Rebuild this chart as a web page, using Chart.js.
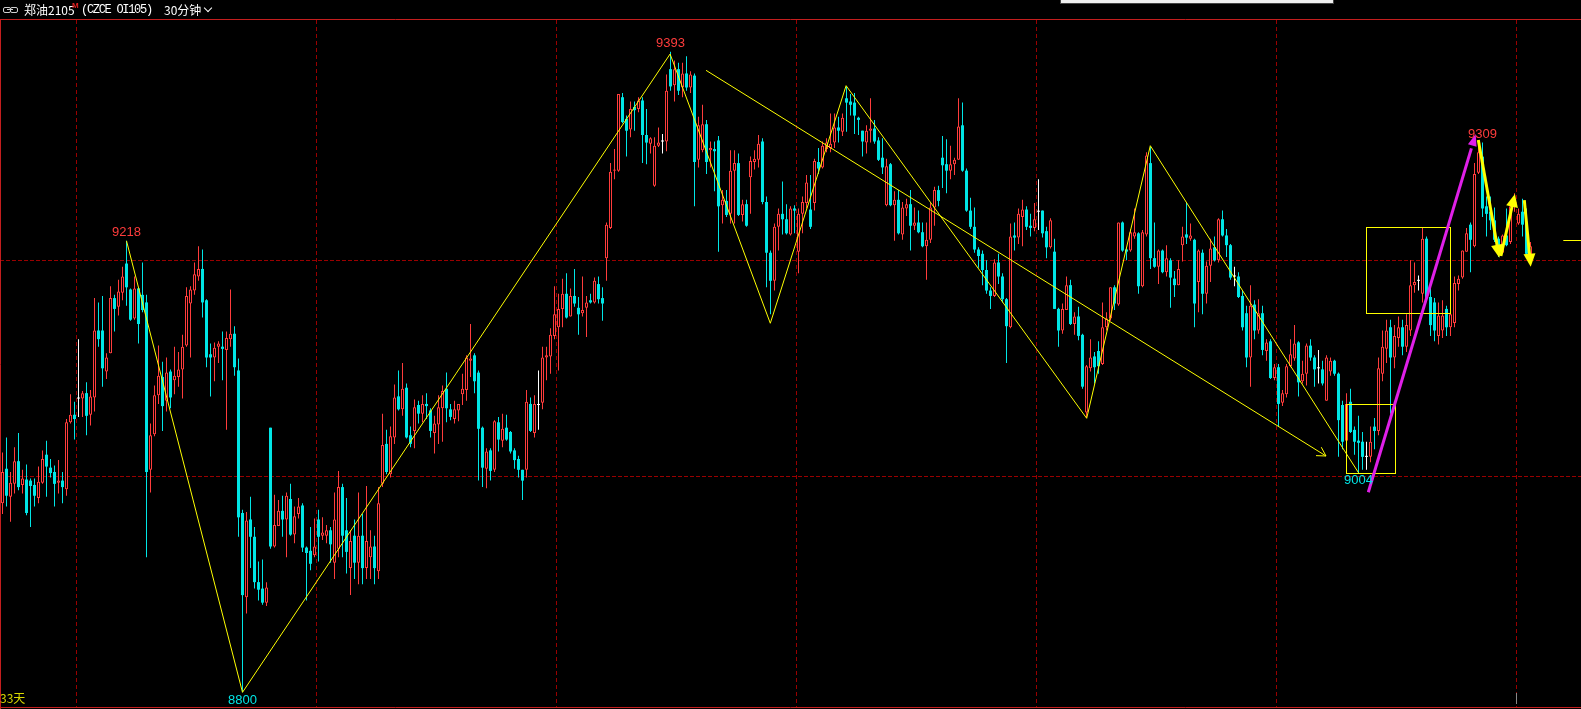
<!DOCTYPE html>
<html><head><meta charset="utf-8">
<script src="https://cdn.jsdelivr.net/npm/chart.js@4/dist/chart.umd.min.js"></script>
<style>
html,body{margin:0;padding:0;background:#000;width:1581px;height:709px;overflow:hidden;}
#wrap{position:relative;width:1581px;height:709px;}
#c{position:absolute;left:0;top:0;}
.t{position:absolute;white-space:nowrap;font-size:12px;line-height:14px;color:#fff;}
</style></head>
<body><div id="wrap">
<canvas id="c" width="1581" height="709"></canvas>
<div class="t" style="left:3px;top:7px;width:6px;height:4px;border:1px solid #cfcfcf;border-radius:2px;"></div>
<div class="t" style="left:10px;top:7px;width:6px;height:4px;border:1px solid #cfcfcf;border-radius:2px;"></div>
<div class="t" style="left:7px;top:9px;width:6px;height:1px;background:#cfcfcf;"></div>
<div class="t" style="left:24px;top:3px;font-family:'Noto Sans CJK SC';">郑油2105</div>
<div class="t" style="left:72px;top:1px;font:bold 8px 'Liberation Sans';color:#e02020;">M</div>
<div class="t" style="left:81px;top:3px;font-family:'Liberation Mono';font-size:12px;letter-spacing:-1.3px;">(CZCE OI105)</div>
<div class="t" style="left:164px;top:3px;font-family:'Noto Sans CJK SC';">30分钟</div>
<div style="position:absolute;left:205px;top:5px;width:5px;height:5px;border-right:1.5px solid #fff;border-bottom:1.5px solid #fff;transform:rotate(45deg);"></div>
<div style="position:absolute;left:1060px;top:0;width:272px;height:3px;background:#f0f0f0;border:1px solid #444;border-top:none;"></div>
<div class="t" style="left:0px;top:691px;font-family:'Noto Sans CJK SC';color:#d8d800;">33天</div>
<div style="position:absolute;left:1516px;top:693px;width:1px;height:11px;background:#888;"></div>
</div>
<script>
// ---- data (one entry per 30-minute bar) ----
const O = [
8975,9007,8981,8993,9014,8992,8997,8996,8992,8980,
8994,9020,9008,9004,8994,8996,8988,9050,9057,9072,
9072,9077,9057,9073,9135,9135,9097,9114,9165,9157,
9170,9197,9173,9146,9174,9168,9161,9006,9039,9075,
9092,9070,9097,9089,9092,9099,9121,9160,9172,9185,
9192,9163,9113,9110,9120,9120,9117,9127,9132,9098,
8966,8888,8960,8944,8902,8896,8883,9045,8935,8954,
8968,8960,8979,8946,8965,8973,8934,8931,8927,8960,
8945,8945,8950,8920,8933,8990,8950,8915,8945,8920,
8945,8915,8925,8935,8912,8993,9030,9002,9036,9074,
9062,9082,9038,9042,9066,9058,9067,9061,9040,9048,
9063,9081,9062,9053,9061,9076,9080,9107,9112,9096,
9045,9007,9024,9006,9050,9033,9045,9041,9024,9016,
9006,9006,9067,9040,9066,9068,9110,9111,9130,9138,
9155,9169,9148,9167,9156,9151,9156,9163,9161,9178,
9165,9202,9230,9283,9283,9351,9331,9321,9342,9340,
9348,9316,9308,9269,9306,9310,9310,9377,9362,9377,
9360,9373,9360,9371,9293,9302,9326,9302,9303,9311,
9251,9255,9243,9283,9290,9242,9252,9277,9291,9293,
9310,9254,9207,9181,9231,9243,9238,9224,9248,9208,
9243,9253,9247,9253,9291,9286,9303,9304,9309,9323,
9319,9350,9347,9346,9332,9320,9309,9320,9322,9311,
9295,9251,9289,9251,9256,9224,9248,9252,9232,9235,
9226,9213,9219,9249,9265,9295,9289,9283,9289,9293,
9325,9283,9246,9231,9210,9206,9191,9172,9167,9198,
9185,9164,9138,9223,9221,9240,9247,9232,9230,9245,
9246,9227,9212,9208,9155,9135,9154,9177,9141,9148,
9131,9059,9100,9111,9116,9104,9138,9146,9175,9159,
9235,9210,9209,9222,9225,9176,9224,9290,9202,9194,
9209,9189,9200,9183,9177,9214,9224,9220,9219,9180,
9207,9169,9195,9212,9200,9238,9223,9214,9185,9185,
9167,9151,9110,9159,9135,9151,9116,9125,9091,9101,
9068,9076,9102,9109,9124,9088,9095,9121,9110,9100,
9099,9070,9097,9107,9095,9066,9033,9069,9043,9033,
9032,9018,9018,9046,9042,9095,9118,9138,9110,9128,
9138,9120,9135,9177,9181,9169,9220,9166,9161,9130,
9135,9155,9138,9142,9178,9184,9208,9233,9213,9281,
9296,9250,9245,9237,9220,9207,9223,9217,9252,9234,
9245,9234,9200];
const H = [
9022,9036,9004,9027,9040,9006,9011,8998,8998,9009,
9024,9033,9016,9010,9015,9004,9053,9076,9069,9127,
9079,9087,9080,9165,9161,9167,9114,9176,9168,9182,
9194,9218,9174,9185,9175,9198,9168,9049,9084,9121,
9106,9110,9099,9120,9115,9131,9175,9176,9198,9213,
9210,9164,9123,9124,9125,9134,9134,9173,9139,9109,
8969,8967,8981,8953,8921,8923,8902,9045,8983,8978,
8982,8985,8993,8972,8980,8975,8935,8953,8961,8969,
8962,8955,8953,8985,9005,8993,8980,8950,8960,8985,
8965,8991,8950,8945,8990,9058,9043,9046,9085,9098,
9105,9086,9046,9071,9070,9075,9077,9063,9056,9075,
9084,9096,9067,9070,9067,9095,9112,9141,9114,9098,
9046,9026,9026,9052,9055,9058,9057,9042,9026,9019,
9006,9080,9073,9075,9098,9120,9120,9137,9176,9169,
9183,9188,9174,9192,9166,9185,9167,9169,9184,9185,
9175,9235,9290,9303,9354,9355,9334,9347,9347,9351,
9351,9340,9314,9314,9323,9317,9372,9393,9385,9383,
9383,9389,9375,9373,9333,9344,9330,9310,9310,9315,
9265,9265,9302,9302,9299,9256,9256,9296,9302,9316,
9313,9259,9209,9234,9248,9273,9252,9250,9251,9248,
9259,9279,9279,9294,9304,9310,9313,9336,9336,9333,
9336,9361,9354,9355,9333,9320,9325,9350,9330,9314,
9313,9294,9290,9264,9265,9254,9257,9265,9249,9246,
9235,9235,9253,9268,9269,9315,9312,9306,9295,9350,
9346,9285,9258,9249,9212,9209,9200,9175,9201,9206,
9188,9165,9234,9235,9248,9256,9250,9243,9253,9275,
9246,9231,9239,9220,9156,9160,9185,9182,9152,9157,
9132,9103,9127,9115,9125,9161,9152,9175,9177,9235,
9236,9212,9229,9248,9226,9228,9300,9305,9235,9210,
9210,9214,9202,9190,9200,9231,9253,9234,9220,9210,
9210,9199,9220,9222,9239,9246,9229,9215,9194,9189,
9172,9158,9177,9163,9164,9158,9127,9127,9104,9104,
9080,9104,9127,9140,9125,9107,9123,9127,9112,9117,
9107,9112,9110,9108,9096,9070,9077,9081,9046,9056,
9041,9032,9046,9054,9110,9135,9145,9145,9140,9148,
9145,9150,9200,9198,9186,9230,9222,9180,9165,9161,
9163,9158,9158,9185,9186,9209,9230,9235,9290,9305,
9309,9259,9259,9249,9222,9224,9248,9252,9262,9248,
9257,9248,9217];
const L = [
8965,8972,8958,8984,8987,8984,8964,8953,8972,8975,
8993,8981,8999,8972,8984,8975,8982,9049,9034,9055,
9055,9038,9047,9060,9120,9083,9090,9114,9134,9149,
9163,9158,9144,9145,9123,9152,8925,8985,9037,9067,
9042,9060,9063,9076,9083,9072,9120,9110,9168,9181,
9147,9101,9074,9088,9105,9089,9043,9120,9093,8944,
8800,8873,8915,8896,8885,8881,8880,8933,8934,8954,
8944,8925,8945,8938,8961,8930,8885,8913,8925,8921,
8941,8938,8920,8905,8925,8925,8910,8890,8905,8900,
8900,8905,8905,8900,8905,8990,9002,8999,9030,9061,
9056,9035,9027,9026,9049,9050,9053,9036,9021,9030,
9032,9050,9052,9049,9051,9066,9070,9092,9077,8996,
8990,8989,8996,9004,9023,9027,9033,9021,9007,8999,
8978,8999,9041,9036,9043,9062,9089,9095,9127,9098,
9138,9146,9148,9157,9131,9148,9129,9160,9160,9160,
9144,9181,9229,9275,9282,9327,9296,9314,9320,9337,
9290,9289,9299,9268,9305,9299,9301,9357,9347,9353,
9351,9357,9355,9250,9286,9300,9280,9286,9264,9208,
9234,9240,9234,9234,9241,9236,9231,9243,9284,9286,
9252,9175,9150,9172,9209,9224,9224,9223,9225,9188,
9225,9248,9229,9246,9280,9285,9300,9300,9304,9309,
9315,9319,9334,9317,9316,9296,9299,9309,9308,9292,
9280,9250,9250,9218,9224,9219,9241,9209,9228,9225,
9212,9182,9216,9232,9250,9267,9262,9275,9279,9293,
9282,9245,9229,9207,9193,9177,9169,9155,9166,9178,
9161,9105,9137,9209,9215,9213,9228,9222,9227,9228,
9221,9202,9211,9155,9120,9132,9154,9140,9131,9126,
9081,9054,9097,9086,9095,9103,9135,9144,9154,9158,
9208,9200,9208,9220,9169,9175,9222,9192,9193,9178,
9188,9185,9156,9166,9177,9199,9215,9218,9138,9152,
9150,9160,9180,9199,9198,9222,9203,9182,9176,9165,
9135,9101,9083,9127,9132,9112,9107,9090,9089,9046,
9065,9073,9101,9107,9074,9086,9084,9107,9083,9086,
9084,9070,9093,9093,9018,9025,9033,9040,9020,9003,
9006,9006,9013,9025,9038,9088,9105,9058,9100,9120,
9112,9115,9130,9170,9172,9161,9163,9130,9125,9122,
9128,9130,9130,9138,9172,9183,9208,9189,9212,9280,
9240,9222,9228,9217,9203,9206,9213,9215,9245,9233,
9222,9205,9195];
const C = [
9004,8982,8994,9014,8990,8998,8966,8991,8982,8995,
9016,9009,9003,8993,8996,8990,9050,9057,9053,9072,
9077,9056,9074,9135,9127,9100,9110,9165,9155,9171,
9185,9175,9145,9174,9141,9154,9004,9038,9075,9093,
9065,9096,9073,9093,9099,9120,9167,9173,9187,9192,
9161,9110,9110,9119,9123,9118,9128,9132,9101,8962,
8890,8959,8944,8902,8895,8883,8897,8935,8955,8968,
8960,8982,8946,8963,8972,8934,8929,8919,8935,8944,
8948,8950,8937,8960,8990,8945,8930,8940,8920,8945,
8915,8940,8935,8915,8975,9029,9004,9037,9073,9062,
9081,9036,9030,9064,9058,9067,9065,9042,9049,9064,
9079,9063,9055,9062,9067,9081,9110,9109,9088,9044,
9008,9023,9005,9051,9034,9044,9034,9023,9015,9006,
8996,9069,9042,9067,9066,9110,9112,9131,9150,9155,
9169,9147,9167,9160,9150,9154,9161,9161,9181,9164,
9160,9233,9282,9284,9354,9328,9320,9340,9339,9348,
9316,9309,9313,9306,9309,9310,9357,9361,9377,9357,
9373,9360,9372,9291,9325,9326,9291,9304,9301,9250,
9256,9242,9283,9290,9242,9252,9232,9292,9294,9308,
9254,9207,9181,9231,9243,9238,9225,9248,9246,9243,
9254,9272,9231,9292,9285,9306,9309,9308,9323,9320,
9332,9346,9344,9334,9330,9310,9320,9322,9310,9293,
9286,9287,9251,9256,9225,9249,9252,9232,9235,9226,
9213,9219,9249,9265,9255,9288,9283,9289,9293,9324,
9283,9246,9231,9210,9204,9191,9172,9167,9198,9185,
9164,9139,9222,9221,9243,9247,9231,9230,9238,9245,
9225,9212,9237,9155,9135,9155,9177,9141,9148,9130,
9083,9102,9110,9101,9102,9138,9146,9175,9160,9235,
9209,9208,9226,9226,9176,9226,9297,9202,9194,9209,
9189,9202,9184,9177,9192,9222,9221,9223,9160,9209,
9169,9195,9211,9200,9238,9223,9214,9184,9185,9166,
9138,9110,9158,9135,9151,9117,9124,9091,9101,9067,
9077,9102,9113,9123,9087,9095,9121,9110,9099,9100,
9086,9110,9107,9095,9052,9032,9067,9041,9032,9031,
9018,9018,9032,9042,9100,9120,9135,9110,9130,9138,
9120,9140,9177,9180,9181,9220,9165,9140,9135,9149,
9149,9138,9150,9179,9183,9209,9225,9219,9280,9300,
9248,9243,9237,9219,9208,9223,9214,9250,9256,9243,
9233,9206,9213];
// grid levels
const GRID_Y = [9000, 9200];
const GRID_X = [18.5, 78.5, 138.5, 198.5, 258.5, 318.5, 378.5];
// marked extremes (bar index, price)
const MARK_I = [31, 167, 60, 370, 339];
const MARK_P = [9218, 9393, 8800, 9309, 9004];
// hand-drawn zigzag (bar index, price)
const ZIG_I = [31, 60, 166.9, 191.95, 210.9, 271.05, 286.95, 339];
const ZIG_P = [9218, 8800, 9391, 9141.7, 9361.7, 9053.7, 9306.1, 9003.3];
// long trend arrow
const TREND_I = [175.875, 330.875];
const TREND_P = [9375.9, 9018.8];
// boxes [i0, i1, pTop, pBottom]
const BOX_A = [335.875, 348.05, 9066.7, 9002.8];
const BOX_B = [340.95, 361.95, 9230.6, 9150.9];
// magenta arrow
const MAG_I = [341.45, 368.3];
const MAG_P = [8985.2, 9316.9];
// yellow thick arrows
const ARR_I = [[368.95, 374.2], [374.6, 378.1], [380.45, 382.05]];
const ARR_P = [[9311.4, 9202.4], [9204, 9261.4], [9255.8, 9194.1]];
// price marker at right edge
const MARK_LINE_I = [390.2, 394.7];
const MARK_LINE_P = 9218.5;

const RED = '#ff3c3c', CYAN = '#00e6e6', WHITE = '#ffffff', YEL = '#ffff00';
const GRIDC = '#9a0000', FRAME = '#c41e1e';
const idx = O.map((_, i) => i);
const col = i => C[i] > O[i] ? RED : (C[i] < O[i] ? CYAN : WHITE);

const PXX = 4, X0 = 2.5, PXY = 1.08, Y9000 = 476.3, TOP = 20, BOT = 707, W = 1581;
const XMIN = -X0 / PXX, XMAX = XMIN + W / PXX;
const YMAX = 9000 + (Y9000 - TOP) / PXY, YMIN = 9000 - (BOT - Y9000) / PXY;

function arrowHead(ctx, x1, y1, x2, y2, len, half) {
  const a = Math.atan2(y2 - y1, x2 - x1);
  ctx.beginPath();
  ctx.moveTo(x2, y2);
  ctx.lineTo(x2 - len * Math.cos(a) + half * Math.sin(a), y2 - len * Math.sin(a) - half * Math.cos(a));
  ctx.lineTo(x2 - len * Math.cos(a) - half * Math.sin(a), y2 - len * Math.sin(a) + half * Math.cos(a));
  ctx.closePath();
  ctx.fill();
}

const overlay = {
  id: 'overlay',
  afterDatasetsDraw(chart) {
    const ctx = chart.ctx, sx = chart.scales.x, sy = chart.scales.y;
    const X = v => sx.getPixelForValue(v), Y = v => sy.getPixelForValue(v);
    ctx.save();
    ctx.lineWidth = 1; ctx.strokeStyle = YEL; ctx.fillStyle = YEL;
    // zigzag
    ctx.beginPath();
    ZIG_I.forEach((v, k) => { const x = X(v), y = Y(ZIG_P[k]); k ? ctx.lineTo(x, y) : ctx.moveTo(x, y); });
    ctx.stroke();
    // trend arrow
    const tx1 = X(TREND_I[0]), ty1 = Y(TREND_P[0]), tx2 = X(TREND_I[1]), ty2 = Y(TREND_P[1]);
    ctx.beginPath(); ctx.moveTo(tx1, ty1); ctx.lineTo(tx2, ty2);
    const ta = Math.atan2(ty2 - ty1, tx2 - tx1);
    [Math.PI + ta - 0.52, Math.PI + ta + 0.52].forEach(b => { ctx.moveTo(tx2, ty2); ctx.lineTo(tx2 + 10 * Math.cos(b), ty2 + 10 * Math.sin(b)); });
    ctx.stroke();
    // boxes
    [BOX_A, BOX_B].forEach(b => {
      const x1 = Math.round(X(b[0])) + 0.5, x2 = Math.round(X(b[1])) + 0.5, y1 = Math.round(Y(b[2])) + 0.5, y2 = Math.round(Y(b[3])) + 0.5;
      ctx.strokeRect(x1, y1, x2 - x1, y2 - y1);
    });
    // right marker
    ctx.beginPath(); ctx.moveTo(X(MARK_LINE_I[0]), Math.round(Y(MARK_LINE_P)) + 0.5); ctx.lineTo(X(MARK_LINE_I[1]), Math.round(Y(MARK_LINE_P)) + 0.5); ctx.stroke();
    // magenta arrow
    ctx.strokeStyle = '#e020e8'; ctx.fillStyle = '#e020e8'; ctx.lineWidth = 3;
    let mx1 = X(MAG_I[0]), my1 = Y(MAG_P[0]), mx2 = X(MAG_I[1]), my2 = Y(MAG_P[1]);
    ctx.beginPath(); ctx.moveTo(mx1, my1); ctx.lineTo(mx1 + (mx2 - mx1) * 0.96, my1 + (my2 - my1) * 0.96); ctx.stroke();
    arrowHead(ctx, mx1, my1, mx2, my2, 12, 4.5);
    // yellow thick arrows
    ctx.strokeStyle = YEL; ctx.fillStyle = YEL; ctx.lineWidth = 3;
    ARR_I.forEach((a, k) => {
      const x1 = X(a[0]), y1 = Y(ARR_P[k][0]), x2 = X(a[1]), y2 = Y(ARR_P[k][1]);
      const f = 1 - 8 / Math.hypot(x2 - x1, y2 - y1);
      ctx.beginPath(); ctx.moveTo(x1, y1); ctx.lineTo(x1 + (x2 - x1) * f, y1 + (y2 - y1) * f); ctx.stroke();
      arrowHead(ctx, x1, y1, x2, y2, 13, 6);
    });
    // labels
    ctx.font = '13px "Liberation Sans"'; ctx.textAlign = 'center'; ctx.textBaseline = 'middle';
    MARK_I.forEach((v, k) => {
      const p = MARK_P[k];
      const isHigh = p >= H[v] - 0.5 && p > 9100;
      ctx.fillStyle = isHigh ? RED : CYAN;
      ctx.fillText(String(p), X(v), Y(p) + (isHigh ? -8.5 : 8.5));
    });
    ctx.restore();
  },
  afterDraw(chart) {
    const ctx = chart.ctx;
    ctx.save();
    ctx.strokeStyle = FRAME; ctx.lineWidth = 1;
    ctx.beginPath();
    ctx.moveTo(0, 19.5); ctx.lineTo(W, 19.5);
    ctx.moveTo(0.5, 19.5); ctx.lineTo(0.5, 709);
    ctx.moveTo(0, BOT + 0.5); ctx.lineTo(W, BOT + 0.5);
    ctx.stroke();
    ctx.restore();
  }
};

new Chart(document.getElementById('c'), {
  type: 'bar',
  data: {
    datasets: [
      {
        label: 'wick', order: 2, grouped: false,
        data: idx.map(i => ({x: i, y: [L[i], H[i]]})),
        backgroundColor: idx.map(col), borderWidth: 0,
        barThickness: 1, inflateAmount: 0
      },
      {
        label: 'body', order: 1, grouped: false,
        data: idx.map(i => ({x: i, y: [O[i], C[i]]})),
        backgroundColor: idx.map(i => C[i] > O[i] ? '#000000' : col(i)),
        borderColor: idx.map(col),
        borderWidth: idx.map(i => C[i] > O[i] ? 1 : 0),
        borderSkipped: false, barThickness: 3, minBarLength: 1, inflateAmount: 0
      }
    ]
  },
  options: {
    responsive: false, animation: false, events: [],
    layout: {padding: {top: TOP, bottom: 709 - BOT, left: 0, right: 0}},
    plugins: {legend: {display: false}, tooltip: {enabled: false}},
    scales: {
      x: {
        type: 'linear', min: XMIN, max: XMAX, offset: false,
        ticks: {display: false},
        grid: {color: GRIDC, lineWidth: 1, drawTicks: false, offset: false},
        border: {display: false, dash: [4, 3]},
        afterFit(s) { s.height = 0; },
        afterBuildTicks(s) { s.ticks = GRID_X.map(v => ({value: v})); }
      },
      y: {
        type: 'linear', min: YMIN, max: YMAX,
        ticks: {display: false},
        grid: {color: GRIDC, lineWidth: 1, drawTicks: false},
        border: {display: false, dash: [4, 2]},
        afterFit(s) { s.width = 0; },
        afterBuildTicks(s) { s.ticks = GRID_Y.map(v => ({value: v})); }
      }
    }
  },
  plugins: [overlay]
});
</script>
</body></html>
